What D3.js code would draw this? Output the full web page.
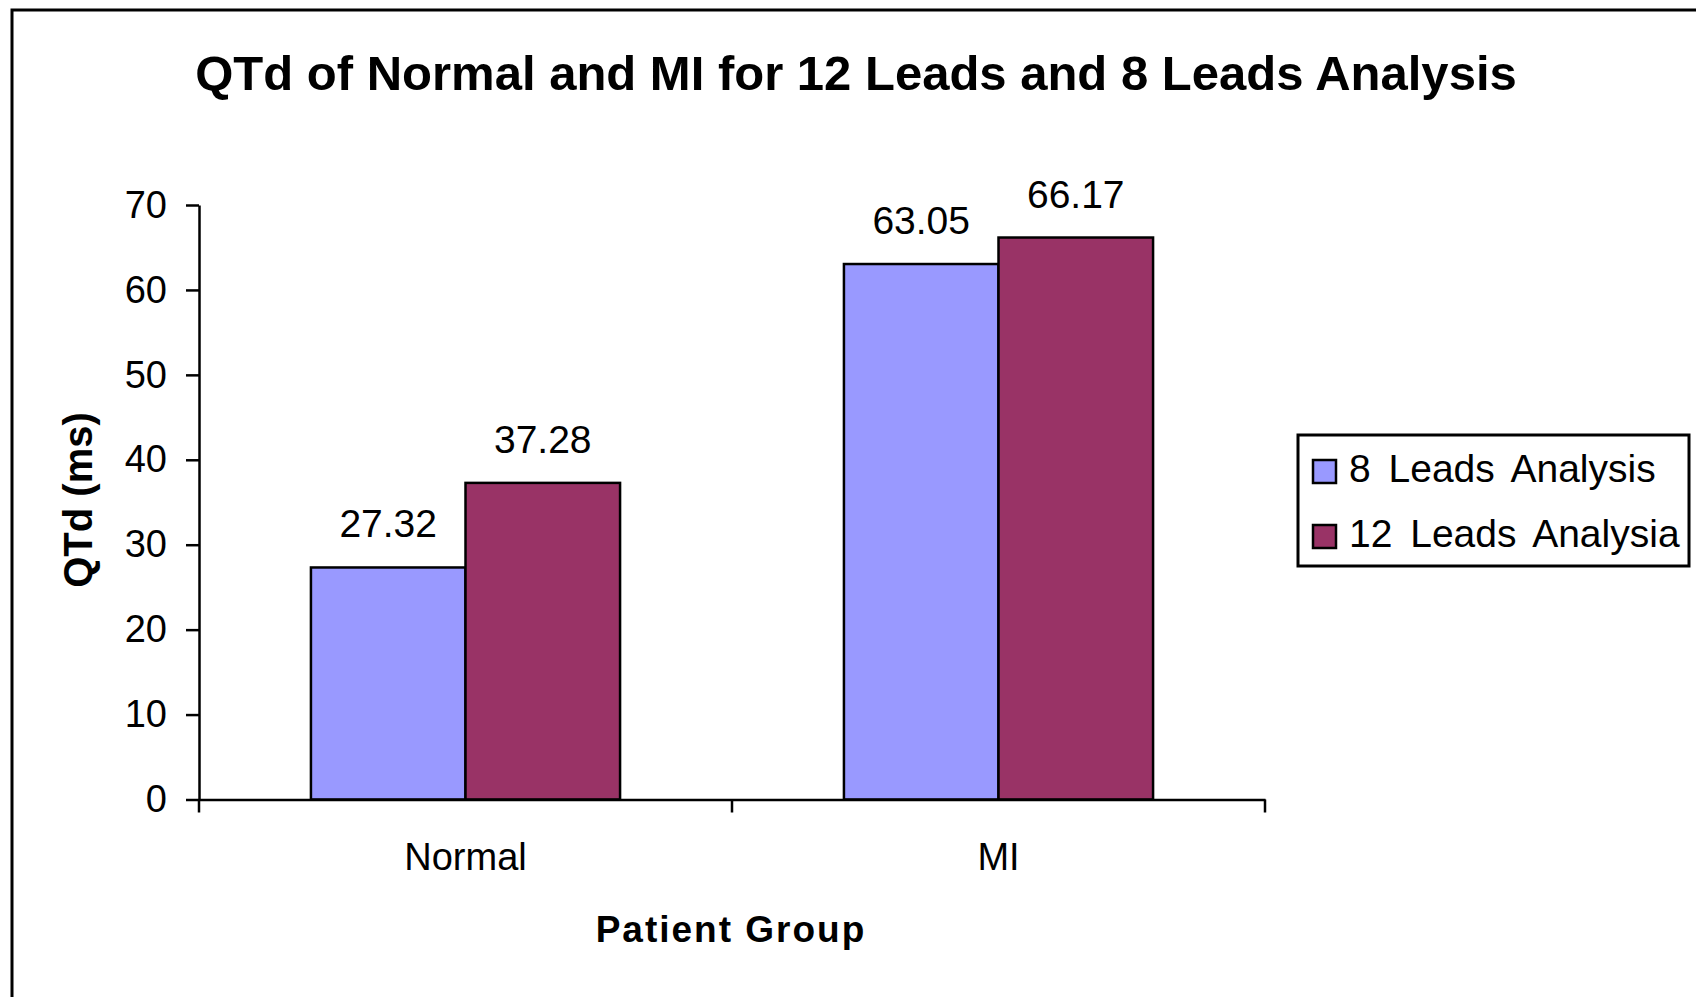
<!DOCTYPE html>
<html lang="en">
<head>
<meta charset="utf-8">
<title>QTd of Normal and MI</title>
<style>
body { margin: 0; background: #ffffff; }
svg text { font-family: "Liberation Sans", Arial, sans-serif; fill: #000; }
.axis path, .axis line { stroke: #000; stroke-width: 2.5; fill: none; }
.axis text { font-size: 38px; }
</style>
</head>
<body>
<div id="chart"></div>
<script src="https://d3js.org/d3.v7.min.js"></script>
<script>
// chart data
var groups = ["Normal", "MI"];
var seriesNames = ["8 Leads Analysis", "12 Leads Analysia"];
var leads8 = [27.32, 63.05];
var leads12 = [37.28, 66.17];
var yTicks = [0, 10, 20, 30, 40, 50, 60, 70];
var colors = ["#9999FF", "#993366"];

var W = 1696, H = 997;
var plot = { left: 199, right: 1265, top: 205, bottom: 799.5 };

var rows = groups.map(function(g, i) {
  return { group: g, values: [
    { name: seriesNames[0], value: leads8[i], color: colors[0] },
    { name: seriesNames[1], value: leads12[i], color: colors[1] }
  ]};
});

var svg = d3.select('#chart').append('svg')
  .attr('width', W)
  .attr('height', H);

// outer frame (only left/top edges visible in the crop)
svg.append('rect')
  .attr('x', 12).attr('y', 10)
  .attr('width', W + 100).attr('height', H + 100)
  .attr('fill', '#fff')
  .attr('stroke', '#000')
  .attr('stroke-width', 3);

var y = d3.scaleLinear().domain([0, 70]).range([plot.bottom, plot.top]);
var x0 = d3.scaleBand().domain(groups).range([plot.left, plot.right]).padding(0);
var bw = x0.bandwidth();
var x1 = d3.scaleBand().domain(seriesNames).range([bw * 0.21, bw * 0.79]).padding(0);

// title
svg.append('text')
  .attr('x', 856).attr('y', 90)
  .attr('text-anchor', 'middle')
  .style('font-size', '49px')
  .style('font-weight', 'bold')
  .text('QTd of Normal and MI for 12 Leads and 8 Leads Analysis');

// bars
var grp = svg.selectAll('g.grp')
  .data(rows)
  .enter().append('g')
  .attr('class', 'grp')
  .attr('transform', function(d) { return 'translate(' + x0(d.group) + ',0)'; });

grp.selectAll('rect')
  .data(function(d) { return d.values; })
  .enter().append('rect')
  .attr('x', function(d) { return x1(d.name); })
  .attr('y', function(d) { return y(d.value); })
  .attr('width', x1.bandwidth())
  .attr('height', function(d) { return y(0) - y(d.value); })
  .attr('fill', function(d) { return d.color; })
  .attr('stroke', '#000')
  .attr('stroke-width', 2.5);

grp.selectAll('text.val')
  .data(function(d) { return d.values; })
  .enter().append('text')
  .attr('class', 'val')
  .attr('x', function(d) { return x1(d.name) + x1.bandwidth() / 2; })
  .attr('y', function(d) { return y(d.value) - 30; })
  .attr('text-anchor', 'middle')
  .style('font-size', '39px')
  .text(function(d) { return d3.format('.2f')(d.value); });

// y axis
svg.append('g')
  .attr('class', 'axis')
  .attr('transform', 'translate(' + plot.left + ',0)')
  .call(d3.axisLeft(y).tickValues(yTicks).tickSize(13).tickPadding(19).tickSizeOuter(0));

// x axis: category labels centred, ticks on band edges
var xAxis = svg.append('g')
  .attr('class', 'axis')
  .attr('transform', 'translate(0,' + plot.bottom + ')')
  .call(d3.axisBottom(x0).tickSize(0).tickPadding(44).tickSizeOuter(0));

var edges = [x0(groups[0])].concat(groups.map(function(g) { return x0(g) + bw; }));
xAxis.selectAll('line.edge')
  .data(edges)
  .enter().append('line')
  .attr('class', 'edge')
  .attr('x1', function(d) { return d; })
  .attr('x2', function(d) { return d; })
  .attr('y1', 0).attr('y2', 13);

// axis titles
svg.append('text')
  .attr('transform', 'translate(92,500) rotate(-90)')
  .attr('text-anchor', 'middle')
  .style('font-size', '40px')
  .style('font-weight', 'bold')
  .text('QTd (ms)');

svg.append('text')
  .attr('x', 731).attr('y', 942)
  .attr('text-anchor', 'middle')
  .style('font-size', '37px')
  .style('font-weight', 'bold')
  .style('letter-spacing', '2px')
  .text('Patient Group');

// legend
var legend = svg.append('g').attr('transform', 'translate(1298,435)');
legend.append('rect')
  .attr('width', 391).attr('height', 131)
  .attr('fill', '#fff')
  .attr('stroke', '#000')
  .attr('stroke-width', 3);

var item = legend.selectAll('g.item')
  .data(seriesNames)
  .enter().append('g')
  .attr('class', 'item')
  .attr('transform', function(d, i) { return 'translate(15,' + (25 + i * 65) + ')'; });

item.append('rect')
  .attr('width', 23).attr('height', 23)
  .attr('fill', function(d, i) { return colors[i]; })
  .attr('stroke', '#000')
  .attr('stroke-width', 2.5);

item.append('text')
  .attr('x', 36).attr('y', 22)
  .style('font-size', '39px')
  .style('word-spacing', '7px')
  .text(function(d) { return d; });
</script>
</body>
</html>
